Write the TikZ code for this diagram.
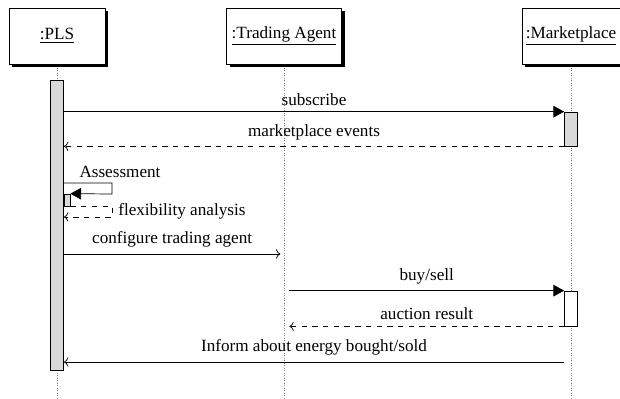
\documentclass[tikz,border=0pt]{standalone}
\usepackage{fontspec}
\setmainfont{Liberation Serif}
\usetikzlibrary{arrows.meta,shadows}

\begin{document}
\begin{tikzpicture}[x=0.56pt,y=-0.56pt]
	\tikzstyle{every node}=[font=\fontsize{9.6}{11}\selectfont];
	\tikzstyle{inst}=[draw,fill=white,minimum height=31.4pt,inner sep=2pt,drop shadow={fill=black,opacity=1,shadow xshift=1.7pt,shadow yshift=-1.7pt}];
	\tikzstyle{act}=[draw,fill=gray!30,minimum width=7.3pt,inner sep=0pt];
	\tikzstyle{life}=[densely dotted,gray];
	\tikzstyle{call}=[-{Triangle[length=6pt,width=6.5pt]}];
	\tikzstyle{ret}=[dashed,->];
	\tikzstyle{mess}=[->];
	\useasboundingbox (0,0) rectangle (620,399);
	% instances
	\node[inst,minimum width=53.8pt] (pls) at (57,36) {\underline{:PLS}};
	\node[inst,minimum width=64.4pt] (ta) at (284,36) {\underline{:Trading Agent}};
	\node[inst,minimum width=55pt] (mp) at (571,36) {\underline{:Marketplace}};
	\coordinate (plsend) at (57,399);
	\coordinate (taend) at (284,399);
	\coordinate (mpend) at (571,399);
	\draw[life] ([yshift=-2pt]pls.south) -- (plsend);
	\draw[life] ([yshift=-2pt]ta.south) -- (taend);
	\draw[life] ([yshift=-2pt]mp.south) -- (mpend);
	% activations
	\node[act,minimum height=162.4pt] (b0) at (57,225) {};
	\node[act,minimum height=19pt] (b1) at (571,129) {};
	\node[act,minimum width=3.4pt,minimum height=6.7pt] (b2) at (67,200) {};
	\node[act,fill=white,minimum height=19.6pt] (b3) at (571,308.5) {};
	% messages
	\draw[call] (b0.east |- b1.north) -- node[above] (m1) {subscribe} (b1.north west);
	\draw[ret] (b1.south west) -- node[above] (m2) {marketplace events} (b0.east |- b1.south);
	\draw[call] (b0.east |- 0,183) -| (112,194) -- (b2.north east);
	\node (m3) at (120,172) {Assessment};
	\draw[ret] (b2.south east) -| (112,217) -- (b0.east |- 0,217);
	\node[right] (m4) at (112,211) {flexibility analysis};
	\draw[mess] (b0.east |- 0,254) -- node[above] (m5) {configure trading agent} ([xshift=-2pt]ta.center |- 0,254);
	\draw[call] ([xshift=3pt]ta.center |- b3.north) -- node[above] (m6) {buy/sell} (b3.north west);
	\draw[ret] (b3.south west) -- node[above] (m7) {auction result} ([xshift=3pt]ta.center |- b3.south);
	\draw[mess] (b3.west |- 0,362) -- node[above] (m8) {Inform about energy bought/sold} (b0.east |- 0,362);
\end{tikzpicture}
\end{document}
